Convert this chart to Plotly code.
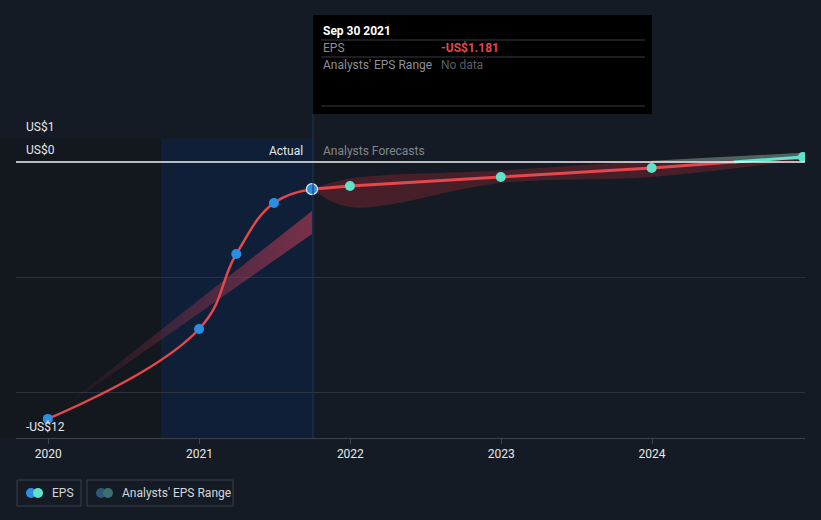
import pandas as pd
import plotly.graph_objects as go

# Data (EPS in US$)
actual_dates = ["2019-12-31", "2020-12-31", "2021-03-31", "2021-06-30", "2021-09-30"]
actual_eps = [-11.17, -7.26, -4.0, -1.78, -1.181]

forecast_dates = ["2021-09-30", "2021-12-31", "2022-12-31", "2023-12-31", "2024-12-31"]
forecast_eps = [-1.181, -1.04, -0.65, -0.26, 0.22]
forecast_high = [-1.181, -0.72, -0.37, 0.05, 0.40]
forecast_low = [-1.181, -1.96, -0.91, -0.65, 0.10]

past_range_dates = ["2019-12-31", "2021-09-30"]
past_range_high = [-11.17, -2.13]
past_range_low = [-11.17, -3.13]

year_ticks = ["2020-01-01", "2021-01-01", "2022-01-01", "2023-01-01", "2024-01-01"]
year_labels = ["2020", "2021", "2022", "2023", "2024"]

BG = "#151b24"
RED = "#e4474c"
TEAL = "#5fe3cb"
BLUE = "#2a8fe3"


def px(x):
    return (x - 16) / 789


def py(y):
    return (438 - y) / 299


fig = go.Figure()

# past range band (fading triangle)
fig.add_trace(go.Scatter(
    x=past_range_dates + past_range_dates[::-1],
    y=past_range_high + past_range_low[::-1],
    fill="toself", mode="lines", line=dict(width=0),
    fillgradient=dict(type="horizontal",
                      colorscale=[[0, "rgba(180,55,80,0.0)"], [1, "rgba(190,60,85,0.6)"]]),
    hoverinfo="skip", showlegend=False))

# forecast range band
fig.add_trace(go.Scatter(
    x=forecast_dates, y=forecast_low, mode="lines",
    line=dict(width=0, shape="spline"), hoverinfo="skip", showlegend=False))
fig.add_trace(go.Scatter(
    x=forecast_dates, y=forecast_high, mode="lines", fill="tonexty",
    fillcolor="rgba(120,35,45,0.5)",
    line=dict(width=0, shape="spline"), hoverinfo="skip", showlegend=False))

# part of the band above zero turns teal
pos_high = [max(v, 0) for v in forecast_high[-2:]]
pos_low = [max(v, 0) for v in forecast_low[-2:]]
fig.add_trace(go.Scatter(
    x=forecast_dates[-2:] + forecast_dates[-2:][::-1],
    y=pos_high + pos_low[::-1], fill="toself", mode="lines",
    fillcolor="rgba(95,227,203,0.35)", line=dict(width=0),
    hoverinfo="skip", showlegend=False))

# actual EPS line
fig.add_trace(go.Scatter(
    x=actual_dates, y=actual_eps, mode="lines",
    line=dict(color=RED, width=2.5, shape="spline", smoothing=1.2),
    hoverinfo="skip", showlegend=False))

# forecast EPS line, red below zero and teal above
x0, x1 = forecast_dates[-2], forecast_dates[-1]
y0, y1 = forecast_eps[-2], forecast_eps[-1]
t0, t1 = pd.Timestamp(x0), pd.Timestamp(x1)
cross = t0 + (t1 - t0) * (-y0 / (y1 - y0))
cross_s = cross.strftime("%Y-%m-%d")
fig.add_trace(go.Scatter(
    x=forecast_dates[:-1] + [cross_s], y=forecast_eps[:-1] + [0],
    mode="lines", line=dict(color=RED, width=3), hoverinfo="skip", showlegend=False))
fig.add_trace(go.Scatter(
    x=[cross_s, x1], y=[0, y1],
    mode="lines", line=dict(color=TEAL, width=3), hoverinfo="skip", showlegend=False))

# markers
fig.add_trace(go.Scatter(
    x=actual_dates[:-1], y=actual_eps[:-1], mode="markers",
    marker=dict(color=BLUE, size=10), showlegend=False))
fig.add_trace(go.Scatter(
    x=forecast_dates[1:], y=forecast_eps[1:], mode="markers",
    marker=dict(color=TEAL, size=10), showlegend=False))
fig.add_trace(go.Scatter(
    x=actual_dates[-1:], y=actual_eps[-1:], mode="markers",
    marker=dict(color=BLUE, size=11, line=dict(color="#dce8f8", width=1.2)),
    showlegend=False))

shapes = [
    # darker past region
    dict(type="rect", xref="paper", yref="paper", x0=-0.03, x1=px(161), y0=0, y1=py(139),
         fillcolor="#13171e", line_width=0, layer="below"),
    # highlighted last-year region
    dict(type="rect", xref="paper", yref="paper", x0=px(161), x1=px(313), y0=0, y1=py(139),
         fillcolor="#0e1f37", line_width=0, layer="below"),
    # vertical marker line
    dict(type="line", xref="paper", yref="paper", x0=px(313), x1=px(313), y0=0, y1=py(114),
         line=dict(color="#1f3957", width=1)),
    # zero line
    dict(type="line", xref="paper", yref="y", x0=0, x1=1, y0=0, y1=0,
         line=dict(color="#f2f2f2", width=1.5)),
    # tooltip box
    dict(type="rect", xref="paper", yref="paper", x0=px(313), x1=px(652), y0=py(114), y1=py(15),
         fillcolor="#000000", line_width=0),
]
for yy in (40, 57, 106):
    shapes.append(dict(type="line", xref="paper", yref="paper", x0=px(321), x1=px(645),
                       y0=py(yy), y1=py(yy), line=dict(color="#3a3d42", width=1)))

# legend boxes
shapes += [
    dict(type="rect", xref="paper", yref="paper", x0=px(17), x1=px(81), y0=py(506), y1=py(480),
         line=dict(color="#3a414b", width=1), fillcolor="rgba(0,0,0,0)"),
    dict(type="rect", xref="paper", yref="paper", x0=px(87), x1=px(233), y0=py(506), y1=py(480),
         line=dict(color="#3a414b", width=1), fillcolor="rgba(0,0,0,0)"),
]
for cx, col in ((31, BLUE), (38, TEAL), (101, "#2b5878"), (108, "#3b7070")):
    shapes.append(dict(type="circle", xref="paper", yref="paper",
                       x0=px(cx - 5), x1=px(cx + 5), y0=py(498), y1=py(488),
                       fillcolor=col, line_width=0))

F = "Roboto, Arial, sans-serif"
ann = []


def text(x, y, s, color, size=12, xanchor="left", bold=False):
    ann.append(dict(xref="paper", yref="paper", x=px(x), y=py(y), text=f"<b>{s}</b>" if bold else s,
                    showarrow=False, xanchor=xanchor, yanchor="middle",
                    font=dict(family=F, size=size, color=color)))


text(24, 127, "US$1", "#e6e8eb")
text(24, 150, "US$0", "#e6e8eb")
text(24, 427, "-US$12", "#e6e8eb")
text(305, 151, "Actual", "#e6e8eb", xanchor="right")
text(321, 151, "Analysts Forecasts", "#80868e")
text(321, 31, "Sep 30 2021", "#ffffff", bold=True)
text(321, 48, "EPS", "#8c9096")
text(439, 48, "-US$1.181", "#e4474c", bold=True)
text(321, 65, "Analysts' EPS Range", "#8c9096")
text(439, 65, "No data", "#5a5e63")
text(50, 493, "EPS", "#d3d7dc")
text(120, 493, "Analysts' EPS Range", "#d3d7dc")

fig.update_layout(
    width=821, height=520,
    margin=dict(l=16, r=16, t=139, b=82),
    paper_bgcolor=BG, plot_bgcolor=BG,
    shapes=shapes, annotations=ann,
    showlegend=False, hovermode=False,
    font=dict(family=F, color="#e6e8eb"),
)
fig.update_xaxes(
    range=["2019-10-15", "2025-01-05"],
    tickvals=year_ticks, ticktext=year_labels,
    showgrid=False, zeroline=False,
    showline=True, linecolor="#3d434c", linewidth=1,
    ticks="outside", ticklen=5, tickcolor="#3d434c",
    tickfont=dict(family=F, size=12, color="#e6e8eb"),
)
fig.update_yaxes(
    range=[-12, 1], tickvals=[-10, -5, 1], showticklabels=False,
    gridcolor="#2c323b", gridwidth=1, zeroline=False, showline=False,
)

fig.write_html("out.html", config={"displayModeBar": False},
               post_script="document.body.style.margin='0';")
